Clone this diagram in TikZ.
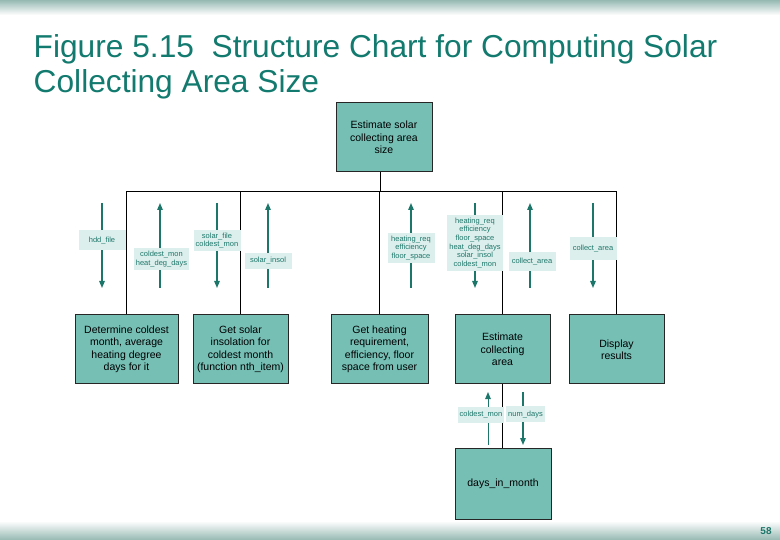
\documentclass[tikz,border=0pt]{standalone}
\usepackage{fontspec}
\setmainfont{Liberation Sans}
\usepackage{tikz}
\usetikzlibrary{arrows.meta,positioning}
\definecolor{boxteal}{RGB}{117,191,181}
\definecolor{labfill}{RGB}{221,239,236}
\definecolor{flowteal}{RGB}{28,118,106}
\definecolor{titleteal}{RGB}{18,122,110}
\definecolor{bandteal}{RGB}{150,185,178}

\begin{document}
\begin{tikzpicture}[x=1pt, y=-1pt,
   module/.style={draw=black!85, line width=1pt, fill=boxteal, align=center,
     minimum width=95pt, minimum height=69pt, inner sep=2pt,
     font=\fontsize{10.5}{12.5}\selectfont},
   couple/.style={draw=flowteal, line width=1.3pt, -{Triangle[length=7pt,width=5.5pt]}},
   lab/.style={fill=labfill, text=flowteal, align=center, inner xsep=2pt, inner ysep=3pt,
     minimum width=47pt, minimum height=16pt, font=\fontsize{7.5}{8.7}\selectfont}]
   \useasboundingbox (0,0) rectangle (780,540);
   % bands at top and bottom
   \shade[top color=bandteal, bottom color=white] (0,0) rectangle (780,15);
   \shade[top color=white, bottom color=bandteal] (0,521) rectangle (780,540);
   \node (title) [anchor=north west, align=left, inner sep=0pt, text=titleteal,
     font=\fontsize{31.7}{34.4}\selectfont] at (33.5,34.5)
     {Figure 5.15\ \ Structure Chart for Computing Solar\\Collecting Area Size};
   \node (page) [text=flowteal, font=\fontsize{10}{12}\selectfont\bfseries] at (766,531) {58};

   % modules
   \node (top) [module, minimum width=96pt] at (384,137.5) {Estimate solar\\collecting area\\size};
   \node (coldest) [module, minimum width=103pt] at (126.5,349.5) {Determine coldest\\month, average\\heating degree\\days for it};
   \node (insol) [module] at (240.5,349.5) {Get solar\\insolation for\\coldest month\\(function nth\_item)};
   \node (user) [module, minimum width=97pt] at (379.5,349.5) {Get heating\\requirement,\\efficiency, floor\\space from user};
   \node (area) [module] at (502.5,349.5) {Estimate\\collecting\\area};
   \node (show) [module] at (616.5,349.5) {Display\\results};
   \node (days) [module, minimum width=96pt, minimum height=71pt] at (503,483.5) {days\_in\_month};

   % tree lines
   \coordinate (bar) at (0,192);
   \draw[line width=1pt] (top.south -| 380,0) -- (bar -| 380,0);
   \draw[line width=1pt] (coldest.north) |- (bar -| show.north) -- (show.north);
   \draw[line width=1pt] (insol.north) -- (insol.north |- bar);
   \draw[line width=1pt] (user.north) -- (user.north |- bar);
   \draw[line width=1pt] (area.north) -- (area.north |- bar);
   \draw[line width=1pt] (area.south) -- (days.north -| area.south);

   % data couples
   \coordinate (c1) at (102,203);  \coordinate (d1) at (102,288);
   \coordinate (c2) at (160,203);  \coordinate (d2) at (160,288);
   \coordinate (c3) at (217,203);  \coordinate (d3) at (217,288);
   \coordinate (c4) at (268,203);  \coordinate (d4) at (268,288);
   \coordinate (c5) at (411,203);  \coordinate (d5) at (411,288);
   \coordinate (c6) at (475,203);  \coordinate (d6) at (475,288);
   \coordinate (c7) at (530,203);  \coordinate (d7) at (530,288);
   \coordinate (c8) at (593,203);  \coordinate (d8) at (593,288);
   \coordinate (c9) at (488,392);  \coordinate (d9) at (488,445);
   \coordinate (c10) at (523,392); \coordinate (d10) at (523,445);

   \draw[couple] (c1) -- node[lab, pos=0.44, minimum height=20pt] {hdd\_file} (d1);
   \draw[couple] (d2) -- node[lab, pos=0.34, xshift=1.5pt] {coldest\_mon\\heat\_deg\_days} (c2);
   \draw[couple] (c3) -- node[lab, pos=0.44] {solar\_file\\coldest\_mon} (d3);
   \draw[couple] (d4) -- node[lab, pos=0.32] {solar\_insol} (c4);
   \draw[couple] (d5) -- node[lab, pos=0.47] {heating\_req\\efficiency\\floor\_space} (c5);
   \draw[couple] (c6) -- node[lab, pos=0.47] {heating\_req\\efficiency\\floor\_space\\heat\_deg\_days\\solar\_insol\\coldest\_mon} (d6);
   \draw[couple] (d7) -- node[lab, pos=0.31, minimum height=19pt, xshift=2pt] {collect\_area} (c7);
   \draw[couple] (c8) -- node[lab, pos=0.53, minimum height=23pt] {collect\_area} (d8);
   \draw[couple, line width=1pt] (d9) -- node[lab, pos=0.57, minimum width=40pt, xshift=-7pt] {coldest\_mon} (c9);
   \draw[couple] (c10) -- node[lab, pos=0.42, minimum width=39pt, xshift=2.5pt] {num\_days} (d10);
\end{tikzpicture}
\end{document}
